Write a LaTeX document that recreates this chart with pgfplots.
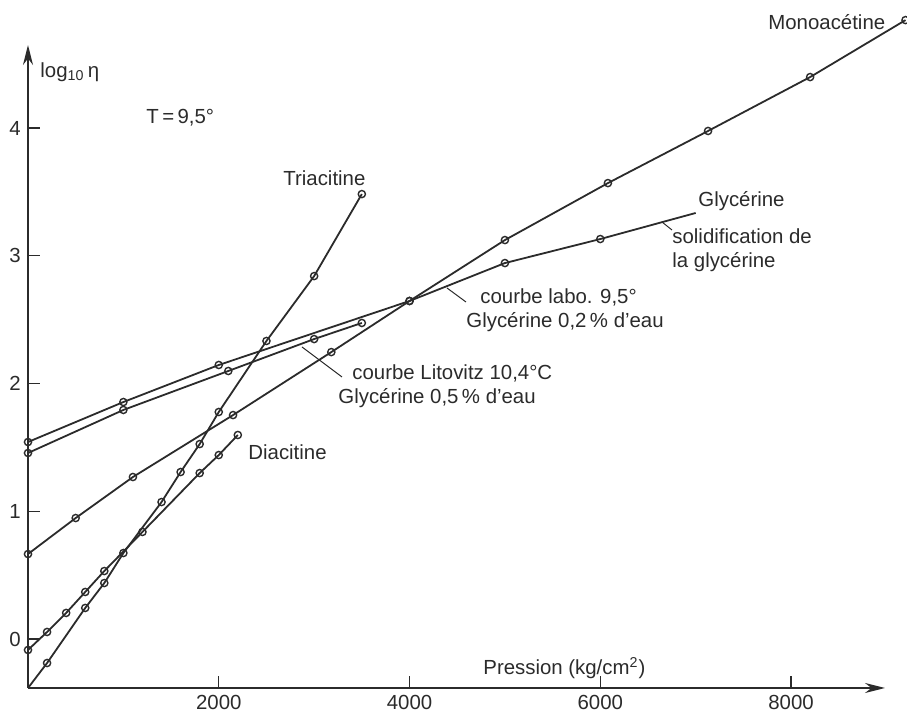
\documentclass[border=0pt]{standalone}
\usepackage{fontspec}
\setmainfont{Liberation Sans}
\usepackage{pgfplots}
\pgfplotsset{compat=1.18}
\usetikzlibrary{arrows.meta}
\definecolor{ink}{HTML}{2B2B2B}
\begin{document}
\fontsize{10.2}{12}\selectfont
\begin{tikzpicture}
\useasboundingbox (-14pt,-15pt) rectangle (439.5pt,344pt);
\begin{axis}[
  scale only axis, width=428.5pt, height=321.5pt,
  xmin=0, xmax=8985, ymin=-0.3836, ymax=4.650,
  axis lines=left,
  axis line style={ink, line width=0.9pt, -{Stealth[length=10pt,width=5pt]}},
  tick align=inside, major tick length=6pt,
  tick style={ink, line width=0.6pt},
  xtick={2000,4000,6000,8000}, ytick={0,1,2,3,4},
  /pgf/number format/assume math mode=true,
  /pgf/number format/set thousands separator={},
  tick label style={font=\fontsize{10.2}{12}\selectfont, text=ink},
  clip=false,
  every axis plot/.append style={ink, line width=0.9pt, mark=o, mark size=1.8pt,
     mark options={fill=white, solid, line width=0.7pt}},
]
% Triacitine
\addplot[mark indices={2,...,12}] coordinates {
 (0,-0.384) (200,-0.188) (600,0.243) (800,0.438) (1000,0.673) (1400,1.072)
 (1600,1.307) (1800,1.526) (2000,1.777) (2500,2.333) (3000,2.841) (3500,3.483)};
% Diacitine
\addplot[] coordinates {
 (0,-0.086) (200,0.055) (400,0.204) (600,0.368) (800,0.532) (1200,0.838)
 (1800,1.299) (2000,1.440) (2200,1.597)};
% Monoacetine
\addplot[] coordinates {
 (0,0.665) (500,0.947) (1100,1.268) (2150,1.753) (3180,2.246) (4000,2.646)
 (5000,3.123) (6080,3.569) (7130,3.977) (8200,4.399) (9200,4.845)};
% Glycerine labo 9,5
\addplot[mark indices={1,...,6}] coordinates {
 (0,1.542) (1000,1.855) (2000,2.145) (4000,2.646) (5000,2.943) (6000,3.131) (7000,3.335)};
% Glycerine Litovitz
\addplot[] coordinates {
 (0,1.456) (1000,1.793) (2100,2.098) (3000,2.348) (3500,2.474)};
\end{axis}
\begin{scope}[x=0.5pt, y=-0.5pt, shift={(-14pt,344pt)}, text=ink]
\node[anchor=west, inner sep=0pt] at (40,72) {log\textsubscript{10}\,η};
\node[anchor=west, inner sep=0pt] at (146,118) {T\,=\,9,5°};
\node[anchor=west, inner sep=0pt] at (283,178) {Triacitine};
\node[anchor=west, inner sep=0pt] at (768,22) {Monoacétine};
\node[anchor=west, inner sep=0pt] at (698,201) {Glycérine};
\node[anchor=north west, inner sep=0pt, align=left] at (672,228) {solidification de\\la glycérine};
\draw[ink, line width=0.5pt] (662,222) -- (672,230);
\node[anchor=north west, inner sep=0pt, align=left] at (466,288) {\hspace*{7pt}courbe labo. 9,5°\\Glycérine 0,2\,\% d'eau};
\draw[ink, line width=0.5pt] (447,288) -- (466,302);
\node[anchor=north west, inner sep=0pt, align=left] at (338,364) {\hspace*{7pt}courbe Litovitz 10,4°C\\Glycérine 0,5\,\% d'eau};
\draw[ink, line width=0.5pt] (302,347) -- (342,377);
\node[anchor=west, inner sep=0pt] at (248,452) {Diacitine};
\node[anchor=west, inner sep=0pt] at (483,668) {Pression (kg/cm\textsuperscript{2})};
\end{scope}
\end{tikzpicture}
\end{document}
